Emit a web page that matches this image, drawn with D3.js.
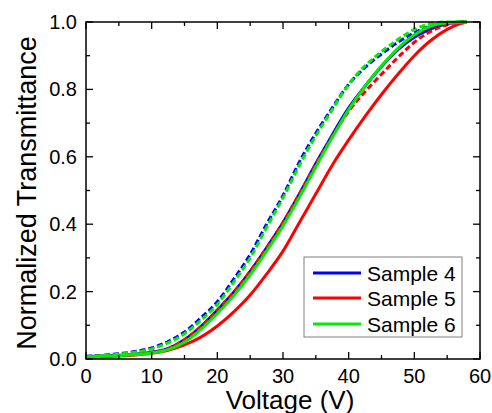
<!DOCTYPE html>
<html><head><meta charset="utf-8">
<script src="https://cdn.jsdelivr.net/npm/d3@7/dist/d3.min.js"></script>
<style>body{margin:0;background:#fff;} svg{display:block;font-family:"Liberation Sans",Arial,sans-serif;}</style>
</head><body><svg id="c" width="492" height="413"></svg>
<script>
const voltage = [0,2.5,5,7.5,10,12.5,15,17.5,20,22.5,25,27.5,30,32.5,35,37.5,40,42.5,45,47.5,50,52.5,55,57,58];
const s4Solid  = [0.007,0.009,0.011,0.014,0.020,0.031,0.057,0.096,0.145,0.198,0.260,0.330,0.405,0.490,0.580,0.665,0.745,0.810,0.868,0.918,0.955,0.980,0.995,1.0,1.0];
const s4Dashed = [0.008,0.011,0.016,0.022,0.033,0.052,0.080,0.122,0.170,0.237,0.310,0.400,0.485,0.585,0.670,0.745,0.815,0.865,0.905,0.940,0.968,0.988,0.998,1.0,1.0];
const s5Solid  = [0.006,0.007,0.009,0.012,0.017,0.026,0.042,0.065,0.098,0.140,0.190,0.252,0.320,0.405,0.490,0.575,0.650,0.720,0.785,0.845,0.900,0.945,0.978,0.995,1.0];
const s5Dashed = [0.007,0.009,0.011,0.014,0.020,0.031,0.057,0.096,0.145,0.198,0.260,0.330,0.405,0.490,0.578,0.660,0.735,0.793,0.845,0.895,0.940,0.972,0.992,1.0,1.0];
const s6Solid  = [0.006,0.008,0.010,0.013,0.018,0.028,0.050,0.088,0.135,0.188,0.250,0.320,0.395,0.480,0.570,0.657,0.740,0.810,0.870,0.922,0.962,0.988,0.998,1.0,1.0];
const s6Dashed = [0.007,0.010,0.014,0.020,0.030,0.048,0.075,0.115,0.162,0.228,0.300,0.390,0.478,0.575,0.662,0.740,0.815,0.870,0.912,0.948,0.978,0.995,1.0,1.0,1.0];
const legendLabels = ["Sample 4","Sample 5","Sample 6"];
const colors = ["#0000ff","#ff0000","#00ee00"];
const xTicks = [0,10,20,30,40,50,60];
const yTicks = [0.0,0.2,0.4,0.6,0.8,1.0];

const svg = d3.select("#c");
const L=86, R=480, T=22, B=359;
const x = d3.scaleLinear().domain([0,60]).range([L,R]);
const y = d3.scaleLinear().domain([0,1]).range([B,T]);

const series = [
  {v:s4Solid,c:0,dash:null},{v:s4Dashed,c:0,dash:"6,3"},
  {v:s5Solid,c:1,dash:null},{v:s5Dashed,c:1,dash:"6,3"},
  {v:s6Solid,c:2,dash:null},{v:s6Dashed,c:2,dash:"6,3"}
];
const line = d3.line().x((d,i)=>x(voltage[i])).y(d=>y(d)).curve(d3.curveMonotoneX);
const g = svg.append("g");
series.forEach(s=>{
  g.append("path").datum(s.v).attr("d",line).attr("fill","none")
   .attr("stroke",colors[s.c]).attr("stroke-width",3)
   .attr("stroke-dasharray",s.dash);
});

// frame
svg.append("rect").attr("x",L).attr("y",T).attr("width",R-L).attr("height",B-T)
  .attr("fill","none").attr("stroke","#000").attr("stroke-width",1.5);

const tickLen=7, minorLen=4;
const xMinor = d3.range(5,60,10);
const yMinor = d3.range(0.1,1,0.2);
const tk = svg.append("g").attr("stroke","#000").attr("stroke-width",1.3);
xTicks.forEach(t=>{
  tk.append("line").attr("x1",x(t)).attr("x2",x(t)).attr("y1",B).attr("y2",B-tickLen);
  tk.append("line").attr("x1",x(t)).attr("x2",x(t)).attr("y1",T).attr("y2",T+tickLen);
});
xMinor.forEach(t=>{
  tk.append("line").attr("x1",x(t)).attr("x2",x(t)).attr("y1",B).attr("y2",B-minorLen);
  tk.append("line").attr("x1",x(t)).attr("x2",x(t)).attr("y1",T).attr("y2",T+minorLen);
});
yTicks.forEach(t=>{
  tk.append("line").attr("x1",L).attr("x2",L+tickLen).attr("y1",y(t)).attr("y2",y(t));
  tk.append("line").attr("x1",R).attr("x2",R-tickLen).attr("y1",y(t)).attr("y2",y(t));
});
yMinor.forEach(t=>{
  tk.append("line").attr("x1",L).attr("x2",L+minorLen).attr("y1",y(t)).attr("y2",y(t));
  tk.append("line").attr("x1",R).attr("x2",R-minorLen).attr("y1",y(t)).attr("y2",y(t));
});

// tick labels
svg.append("g").selectAll("text").data(xTicks).join("text")
  .attr("x",d=>x(d)).attr("y",383).attr("text-anchor","middle")
  .attr("font-size",20).attr("fill","#000").text(d=>d);
svg.append("g").selectAll("text").data(yTicks).join("text")
  .attr("x",77).attr("y",d=>y(d)+7).attr("text-anchor","end")
  .attr("font-size",20).attr("fill","#000").text(d=>d.toFixed(1));

// axis titles
svg.append("text").attr("x",290).attr("y",409).attr("text-anchor","middle")
  .attr("font-size",26).attr("fill","#000").text("Voltage (V)");
svg.append("text").attr("transform","translate(36,193) rotate(-90)").attr("text-anchor","middle")
  .attr("font-size",27).attr("fill","#000").text("Normalized Transmittance");

// legend
const lg = svg.append("g");
lg.append("rect").attr("x",304).attr("y",257).attr("width",158).attr("height",80)
  .attr("fill","#fff").attr("stroke","#808080").attr("stroke-width",1);
const rowsY=[273,298,324];
legendLabels.forEach((lab,i)=>{
  lg.append("line").attr("x1",313).attr("x2",361).attr("y1",rowsY[i]).attr("y2",rowsY[i])
    .attr("stroke",colors[i]).attr("stroke-width",3);
  lg.append("text").attr("x",367).attr("y",rowsY[i]+7.5).attr("font-size",21).attr("fill","#000").text(lab);
});
</script></body></html>
